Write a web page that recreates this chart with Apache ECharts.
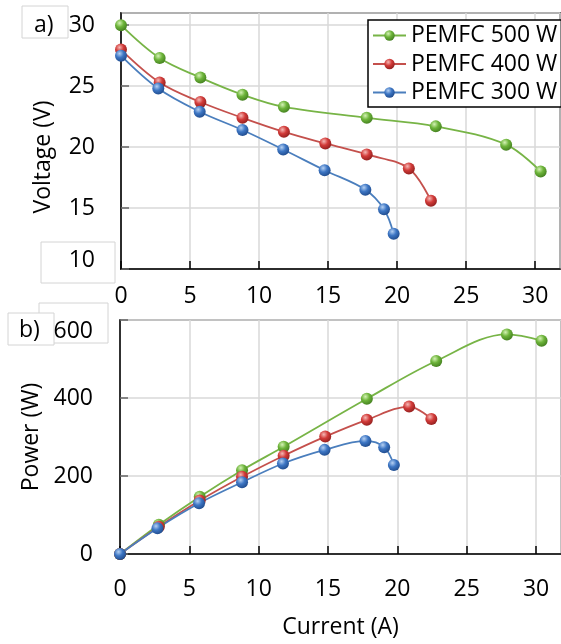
<!DOCTYPE html>
<html>
<head>
<meta charset="utf-8">
<script src="https://cdn.jsdelivr.net/npm/echarts@6/dist/echarts.min.js"></script>
<style>
  html, body { margin: 0; padding: 0; background: #fff; }
  #chart { width: 561px; height: 644px; }
</style>
</head>
<body>
<div id="chart"></div>
<script>
  // current (A) for each stack
  const current500 = [0, 2.8, 5.75, 8.8, 11.8, 17.8, 22.8, 27.9, 30.4];
  const current400 = [0, 2.8, 5.75, 8.8, 11.8, 14.8, 17.8, 20.85, 22.45];
  const current300 = [0, 2.7, 5.7, 8.8, 11.75, 14.75, 17.7, 19.05, 19.75];

  // voltage (V), panel a
  const voltage500 = [30.0, 27.3, 25.7, 24.3, 23.3, 22.4, 21.7, 20.2, 18.0];
  const voltage400 = [28.0, 25.3, 23.7, 22.4, 21.25, 20.3, 19.4, 18.25, 15.6];
  const voltage300 = [27.5, 24.8, 22.9, 21.4, 19.8, 18.1, 16.5, 14.9, 12.9];

  // power (W), panel b
  const power500 = [0, 75, 147, 215, 275, 398, 495, 563, 547];
  const power400 = [0, 70, 137, 198, 252, 301, 344, 378, 346];
  const power300 = [0, 66, 130, 184, 232, 267, 290, 274, 228];

  const voltTicks = [10, 15, 20, 25, 30];
  const powerTicks = [0, 200, 400, 600];

  const font = '"Open Sans", "Liberation Sans", sans-serif';

  const stacks = [
    {name: 'PEMFC 500 W', line: '#77b446', light: '#d4f2b4', mid: '#6db43a', dark: '#3f7a1d', I: current500, V: voltage500, P: power500},
    {name: 'PEMFC 400 W', line: '#c4504c', light: '#f5b8b5', mid: '#d23b39', dark: '#8a1c1b', I: current400, V: voltage400, P: power400},
    {name: 'PEMFC 300 W', line: '#4a7ebd', light: '#b5d0f2', mid: '#3d76c4', dark: '#1d4787', I: current300, V: voltage300, P: power300}
  ];

  function ball(s) {
    return {
      type: 'radial', x: 0.38, y: 0.32, r: 0.75,
      colorStops: [
        {offset: 0, color: s.light},
        {offset: 0.45, color: s.mid},
        {offset: 1, color: s.dark}
      ]
    };
  }

  function makeSeries(s, idx, values) {
    return {
      name: s.name,
      type: 'line',
      xAxisIndex: idx,
      yAxisIndex: idx,
      smooth: 0.35,
      symbol: 'circle',
      symbolSize: 12,
      animation: false,
      lineStyle: {color: s.line, width: 1.8},
      itemStyle: {color: ball(s), borderWidth: 0},
      data: s.I.map((x, i) => [x, values[i]])
    };
  }

  const series = [];
  stacks.forEach(s => series.push(makeSeries(s, 0, s.V)));
  stacks.forEach(s => series.push(makeSeries(s, 1, s.P)));

  const gridLine = {show: true, lineStyle: {color: '#d9d9d9', width: 1.5}};
  const labelBase = {fontFamily: font, fontSize: 23, color: '#000'};

  function xAxis(idx, margin, name) {
    return {
      type: 'value',
      gridIndex: idx,
      min: 0,
      max: 31.8,
      interval: 5,
      name: name,
      nameLocation: 'middle',
      nameGap: 62,
      nameTextStyle: labelBase,
      axisLine: {lineStyle: {color: '#000', width: 1.5}},
      axisTick: {inside: true, length: 8, lineStyle: {color: '#000', width: 1.5}},
      axisLabel: Object.assign({margin: margin, showMaxLabel: false}, labelBase),
      splitLine: gridLine
    };
  }

  const option = {
    backgroundColor: '#fff',
    textStyle: {fontFamily: font},
    grid: [
      {left: 121, top: 13, right: 1, bottom: 375, show: true, borderColor: '#000', borderWidth: 1.5},
      {left: 120, top: 320, right: 0, bottom: 90, show: true, borderColor: '#555', borderWidth: 1.5}
    ],
    xAxis: [
      xAxis(0, 16, ''),
      xAxis(1, 24, 'Current (A)')
    ],
    yAxis: [
      {
        type: 'value',
        gridIndex: 0,
        min: voltTicks[0],
        max: 31,
        interval: 5,
        name: 'Voltage (V)',
        nameLocation: 'middle',
        nameGap: 66,
        nameTextStyle: Object.assign({padding: [0, 32, 0, 0]}, labelBase),
        axisLine: {lineStyle: {color: '#000', width: 1.5}},
        axisTick: {inside: true, length: 8, lineStyle: {color: '#666', width: 1.5}},
        axisLabel: Object.assign({
          margin: 26,
          showMaxLabel: false,
          formatter: v => v === voltTicks[0] ? '{lo|' + v + '}' : String(v),
          rich: {lo: Object.assign({padding: [0, 0, 18, 0]}, labelBase)}
        }, labelBase),
        splitLine: gridLine
      },
      {
        type: 'value',
        gridIndex: 1,
        min: powerTicks[0],
        max: powerTicks[powerTicks.length - 1],
        interval: 200,
        name: 'Power (W)',
        nameLocation: 'middle',
        nameGap: 76,
        nameTextStyle: labelBase,
        axisLine: {lineStyle: {color: '#000', width: 1.5}},
        axisTick: {inside: true, length: 8, lineStyle: {color: '#666', width: 1.5}},
        axisLabel: Object.assign({
          margin: 27,
          formatter: v => v === powerTicks[powerTicks.length - 1] ? '{hi|' + v + '}' : String(v),
          rich: {hi: Object.assign({padding: [22, 0, 0, 0]}, labelBase)}
        }, labelBase),
        splitLine: gridLine
      }
    ],
    legend: {
      data: stacks.map(s => s.name),
      orient: 'vertical',
      left: 368,
      top: 20,
      padding: [4, 4, 3, 4],
      itemWidth: 33,
      itemHeight: 13,
      itemGap: 5.5,
      borderColor: '#000',
      borderWidth: 1.5,
      backgroundColor: '#fff',
      textStyle: Object.assign({lineHeight: 23}, labelBase)
    },
    graphic: [
      {type: 'rect', z: -10, shape: {x: 41, y: 242, width: 74, height: 41}, style: {fill: '#fff', stroke: '#d4d4d4', lineWidth: 1}},
      {type: 'rect', z: -10, shape: {x: 39, y: 303, width: 69, height: 40}, style: {fill: '#fff', stroke: '#d4d4d4', lineWidth: 1}},
      {type: 'rect', z: -9, shape: {x: 22, y: 6, width: 46, height: 32}, style: {fill: '#fff', stroke: '#d4d4d4', lineWidth: 1}},
      {type: 'rect', z: -9, shape: {x: 8, y: 313, width: 46, height: 32}, style: {fill: '#fff', stroke: '#d4d4d4', lineWidth: 1}},
      {type: 'text', z: -8, left: 34, top: 14, style: {text: 'a)', font: '23px ' + font, fill: '#000'}},
      {type: 'text', z: -8, left: 19, top: 319, style: {text: 'b)', font: '23px ' + font, fill: '#000'}}
    ],
    series: series
  };

  const chart = echarts.init(document.getElementById('chart'));
  chart.setOption(option);
</script>
</body>
</html>
